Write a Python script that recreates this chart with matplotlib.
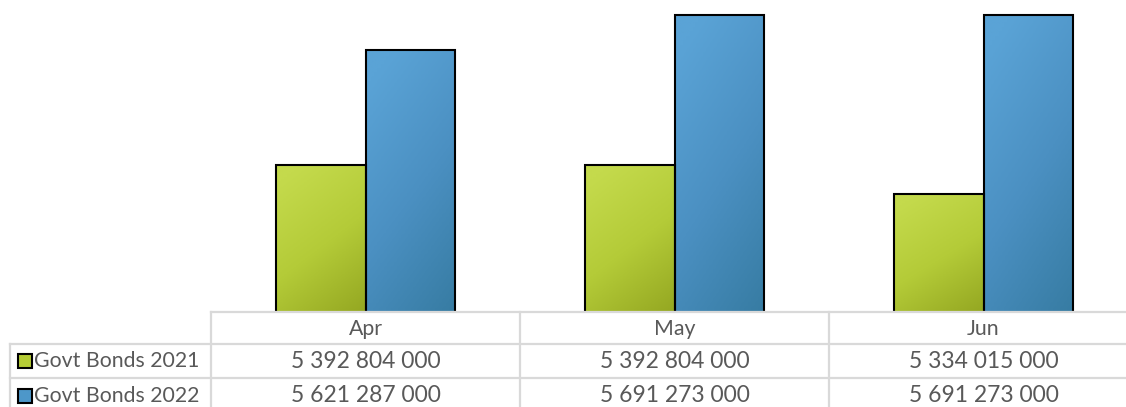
import numpy as np
import matplotlib
matplotlib.use("Agg")
import matplotlib.pyplot as plt
from matplotlib.colors import LinearSegmentedColormap

categories = ["Apr", "May", "Jun"]
series_names = ["Govt Bonds 2021", "Govt Bonds 2022"]
values_2021 = [5392804000, 5392804000, 5334015000]
values_2022 = [5621287000, 5691273000, 5691273000]

W, H = 1126, 407
fig = plt.figure(figsize=(W / 100, H / 100), dpi=100)
plt.rcParams['font.family'] = ['Lato', 'DejaVu Sans']

def fx(px):
    return px / W

def fy(py):
    return 1 - py / H

ax_left, ax_right, ax_top, ax_bot = 211, 1138, 11, 311
ax = fig.add_axes([fx(ax_left), fy(ax_bot), fx(ax_right - ax_left), (ax_bot - ax_top) / H])
ax.set_xlim(-0.5, 2.5)
ax.set_ylim(5.1e9, 5.7e9)
ax.axis("off")

bw = 0.29
x = np.arange(len(categories))
colors = [
    (("#c4da4c", "#b4cb38", "#95a822")),
    (("#5aa3d6", "#4b90c2", "#377ca3")),
]
series = [values_2021, values_2022]
offsets = [-bw / 2, bw / 2]

grad = np.linspace(0, 1, 64)
gx, gy = np.meshgrid(grad, grad)
gimg = np.clip(gx * 0.35 + gy * 0.75 - 0.1, 0, 1)

for s, (vals, off, cols) in enumerate(zip(series, offsets, colors)):
    cmap = LinearSegmentedColormap.from_list("g%d" % s, list(cols))
    bars = ax.bar(x + off, vals, width=bw, bottom=0, color="none",
                  edgecolor="black", linewidth=1.5, zorder=3)
    for b in bars:
        x0, w = b.get_x(), b.get_width()
        top = b.get_height()
        im = ax.imshow(gimg, cmap=cmap, extent=[x0, x0 + w, 5.1e9, top],
                       aspect="auto", origin="upper", zorder=2, vmin=0, vmax=1)
        im.set_clip_path(b)
ax.set_xlim(-0.5, 2.5)
ax.set_ylim(5.1e9, 5.7e9)

# Data table drawn in figure coordinates
gc = "#d9d9d9"
tc = "#595959"
col_edges = [211, 520, 829, 1138]
row_edges = [312, 344, 378, 412]
lw = 1.6

def hline(y, x0, x1):
    fig.add_artist(plt.Line2D([fx(x0), fx(x1)], [fy(y), fy(y)], color=gc, lw=lw))

def vline(xp, y0, y1):
    fig.add_artist(plt.Line2D([fx(xp), fx(xp)], [fy(y0), fy(y1)], color=gc, lw=lw))

hline(row_edges[0], col_edges[0], W)
hline(row_edges[1], 10, W)
hline(row_edges[2], 10, W)
vline(10, row_edges[1], row_edges[3])
for xe in col_edges:
    vline(xe, row_edges[0], row_edges[3])

fs_lab = 15.3
fs_num = 16.5
for i, c in enumerate(categories):
    cx = (col_edges[i] + col_edges[i + 1]) / 2
    fig.text(fx(cx), fy(329), c, ha="center", va="center", color=tc, fontsize=fs_lab)

def fmt(v):
    return "{:,}".format(v).replace(",", " ")

face = ["#b5cc35", "#4d97c9"]
row_y = [361, 396]
for r, (name, vals) in enumerate(zip(series_names, series)):
    cy = row_y[r]
    fig.add_artist(plt.Rectangle((fx(18), fy(cy + 7)), fx(14), 14 / H,
                                 facecolor=face[r], edgecolor="black", lw=1.5))
    fig.text(fx(34), fy(cy), name, ha="left", va="center", color=tc, fontsize=fs_lab)
    for i, v in enumerate(vals):
        cx = (col_edges[i] + col_edges[i + 1]) / 2
        fig.text(fx(cx), fy(cy), fmt(v), ha="center", va="center", color=tc, fontsize=fs_num)

fig.savefig("out.png", dpi=100)
